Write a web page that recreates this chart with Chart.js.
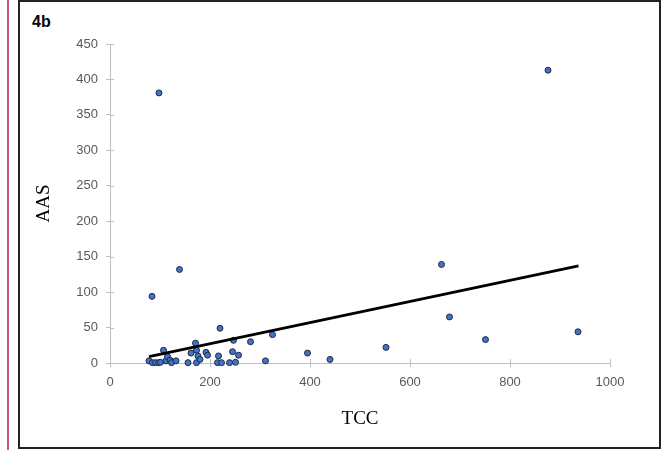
<!DOCTYPE html>
<html>
<head>
<meta charset="utf-8">
<script src="https://cdn.jsdelivr.net/npm/chart.js@4.4.1/dist/chart.umd.min.js"></script>
<style>
    body { margin: 0; background: #fff; width: 664px; height: 450px; position: relative; overflow: hidden; }
    .side-line { position: absolute; left: 7px; top: 0; width: 2px; height: 450px; background: #c9587d; }
    .frame { position: absolute; left: 18px; top: 0; width: 643px; height: 449px; border: 2px solid #222; box-sizing: border-box; }
    .label { position: absolute; left: 32px; top: 13px; font: bold 16px "Liberation Sans", Arial, sans-serif; color: #000; }
    #chart { position: absolute; left: 20px; top: 2px; }
</style>
</head>
<body>
<div class="side-line"></div>
<div class="frame"></div>
<div class="label">4b</div>
<canvas id="chart" width="640" height="446"></canvas>
<script>
// TCC / AAS samples
let tccValues = [78, 85, 91, 97, 101, 107, 112, 115, 120, 123, 132, 156, 162, 171, 173, 176, 173, 180,
    192, 195, 220, 217, 215, 223, 239, 245, 247, 251, 257, 281, 311, 325, 395, 440, 552,
    663, 679, 751, 936, 876, 98, 84, 139];
let aasValues = [3, 0.5, 0.5, 0.5, 1, 18, 3, 9, 4, 0.5, 3, 0.5, 14, 28, 18, 10, 0.5, 5,
    15, 11, 49, 10, 0.5, 0.5, 0.5, 16, 32, 1, 11, 30, 3, 40, 14, 5, 22,
    139, 65, 33, 44, 413, 381, 94, 132];

// linear trend line end points
let trendX = [78, 937];
let trendY = [9, 137];

let xTicks = [0, 200, 400, 600, 800, 1000];
let yTicks = [0, 50, 100, 150, 200, 250, 300, 350, 400, 450];

let points = tccValues.map((x, i) => ({ x: x, y: aasValues[i] }));
let trend = trendX.map((x, i) => ({ x: x, y: trendY[i] }));

const axisGray = '#bfbfbf';
const tickFont = { family: 'Liberation Sans', size: 13 };
const titleFont = { family: 'Liberation Serif', size: 19 };

// draws the inner half of each tick so they cross the axis line
const crossTicks = {
    id: 'crossTicks',
    afterDraw(chart) {
        const ctx = chart.ctx;
        const x = chart.scales.x, y = chart.scales.y;
        ctx.save();
        ctx.strokeStyle = axisGray;
        ctx.lineWidth = 1;
        ctx.beginPath();
        xTicks.forEach(v => {
            let px = Math.round(x.getPixelForValue(v)) + 0.5;
            ctx.moveTo(px, y.bottom);
            ctx.lineTo(px, y.bottom - 4);
        });
        yTicks.forEach(v => {
            let py = Math.round(y.getPixelForValue(v)) + 0.5;
            ctx.moveTo(x.left, py);
            ctx.lineTo(x.left + 4, py);
        });
        ctx.stroke();
        ctx.restore();
    }
};

new Chart(document.getElementById('chart'), {
    type: 'scatter',
    data: {
        datasets: [{
            label: 'AAS',
            data: points,
            backgroundColor: '#4472c4',
            borderColor: '#1c2a48',
            borderWidth: 1,
            pointRadius: 3,
            clip: false,
            order: 2
        }, {
            type: 'line',
            label: 'Linear',
            data: trend,
            borderColor: '#000',
            borderWidth: 2.8,
            pointRadius: 0,
            fill: false,
            clip: false,
            order: 1
        }]
    },
    options: {
        responsive: false,
        animation: false,
        layout: { padding: { left: 0, right: 50, top: 42, bottom: 0 } },
        plugins: {
            legend: { display: false },
            tooltip: { enabled: false }
        },
        scales: {
            x: {
                type: 'linear',
                min: 0,
                max: 1000,
                afterFit: scale => { scale.height = 85; },
                afterBuildTicks: scale => { scale.ticks = xTicks.map(v => ({ value: v })); },
                ticks: { color: '#595959', font: tickFont, padding: 8, maxRotation: 0, callback: v => String(v) },
                grid: { drawOnChartArea: false, color: axisGray, tickLength: 4 },
                border: { color: axisGray, width: 1 },
                title: { display: true, text: 'TCC', color: '#000', font: titleFont, padding: { top: 0, bottom: 18 } }
            },
            y: {
                type: 'linear',
                min: 0,
                max: 450,
                afterFit: scale => { scale.width = 90; },
                afterBuildTicks: scale => { scale.ticks = yTicks.map(v => ({ value: v })); },
                ticks: { color: '#595959', font: tickFont, padding: 8, callback: v => String(v) },
                grid: { drawOnChartArea: false, color: axisGray, tickLength: 4 },
                border: { color: axisGray, width: 1 },
                title: { display: true, text: 'AAS', color: '#000', font: titleFont, padding: { top: 13, bottom: 0 } }
            }
        }
    },
    plugins: [crossTicks]
});
</script>
</body>
</html>
